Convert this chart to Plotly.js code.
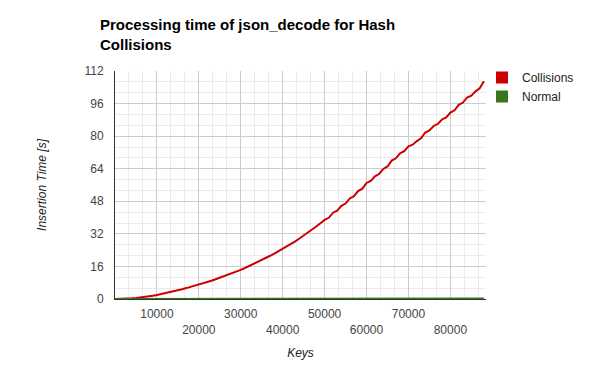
<!DOCTYPE html>
<html>
<head>
<meta charset="utf-8">
<script src="https://cdn.plot.ly/plotly-3.0.1.min.js"></script>
<style>html,body{margin:0;padding:0;background:#fff;}#chart{width:600px;height:371px;}</style>
</head>
<body>
<div id="chart"></div>
<script>
// Data
const keys = [0,1000,2000,3000,4000,5000,6000,7000,8000,9000,10000,11000,12000,13000,14000,15000,16000,17000,18000,19000,20000,21000,22000,23000,24000,25000,26000,27000,28000,29000,30000,31000,32000,33000,34000,35000,36000,37000,38000,39000,40000,41000,42000,43000,44000,45000,46000,47000,48000,49000,50000,51000,52000,53000,54000,55000,56000,57000,58000,59000,60000,61000,62000,63000,64000,65000,66000,67000,68000,69000,70000,71000,72000,73000,74000,75000,76000,77000,78000,79000,80000,81000,82000,83000,84000,85000,86000,87000,88000];
const collisions = [0,0.02,0.08,0.18,0.32,0.5,0.72,0.98,1.28,1.62,2.0,2.42,2.86,3.32,3.8,4.3,4.82,5.36,5.92,6.5,7.0,7.64,8.3,8.98,9.68,10.4,11.14,11.9,12.68,13.48,14.3,15.22,16.16,17.12,18.12,19.14,20.18,21.24,22.34,23.46,24.6,25.8,27.05,28.35,29.7,31.1,32.55,34.05,35.6,37.2,38.85,39.9,42.4,43.4,45.8,46.9,49.4,50.5,53.0,54.2,57.0,58.0,60.3,61.4,63.9,65.1,68.0,69.1,71.6,72.6,75.0,75.8,77.6,78.9,81.8,82.8,85.0,86.0,88.2,89.2,91.6,92.7,95.4,96.5,99.0,99.9,102.0,103.5,107.0];
const normal = [0,0,0,0,0,0.01,0,0,0.01,0,0.01,0,0.01,0.01,0,0.01,0.02,0.01,0.02,0.01,0.02,0.02,0.01,0.02,0.03,0.02,0.03,0.02,0.03,0.03,0.04,0.03,0.04,0.03,0.04,0.04,0.05,0.04,0.05,0.05,0.06,0.05,0.06,0.06,0.07,0.06,0.07,0.07,0.08,0.07,0.08,0.09,0.12,0.1,0.15,0.09,0.1,0.09,0.1,0.1,0.11,0.1,0.11,0.12,0.11,0.12,0.12,0.13,0.12,0.13,0.14,0.13,0.14,0.14,0.15,0.14,0.15,0.15,0.16,0.15,0.16,0.17,0.16,0.17,0.18,0.17,0.18,0.18,0.19];
const seriesNames = ['Collisions', 'Normal'];
const seriesColors = ['#cc0000', '#38761d'];
const xTickVals = [10000,20000,30000,40000,50000,60000,70000,80000];
const xTickText = ['10000','<br>20000','30000','<br>40000','50000','<br>60000','70000','<br>80000'];
const yTickVals = [0,16,32,48,64,80,96,112];
const yTickText = ['0','16','32','48','64','80','96','112'];

const FONT = 'Liberation Sans, Arial, sans-serif';
const traces = [
  {x: keys, y: collisions, type: 'scatter', mode: 'lines', line: {color: seriesColors[0], width: 2}, showlegend: false, hoverinfo: 'skip'},
  {x: keys, y: normal, type: 'scatter', mode: 'lines', line: {color: seriesColors[1], width: 2}, showlegend: false, hoverinfo: 'skip'},
  {x: [null], y: [null], type: 'scatter', mode: 'markers', name: seriesNames[0], marker: {symbol: 'square', size: 12, color: seriesColors[0]}},
  {x: [null], y: [null], type: 'scatter', mode: 'markers', name: seriesNames[1], marker: {symbol: 'square', size: 12, color: seriesColors[1]}}
];

const layout = {
  width: 600, height: 371,
  margin: {l: 115, r: 114, t: 71, b: 72},
  paper_bgcolor: '#fff', plot_bgcolor: '#fff',
  font: {family: FONT, size: 12, color: '#444'},
  title: {
    text: 'Processing time of json_decode for Hash<br>Collisions',
    font: {family: FONT, size: 15, weight: 'bold', color: '#000'},
    x: 100/600, xanchor: 'left', xref: 'container',
    y: 1 - 30/371, yanchor: 'top', yref: 'container'
  },
  xaxis: {
    range: [0, 88500], tickmode: 'array', tickvals: xTickVals, ticktext: xTickText,
    showgrid: true, gridcolor: '#cccccc', gridwidth: 1, zeroline: false,
    showline: true, linecolor: '#333', linewidth: 1,
    ticks: '', ticklabelstandoff: 4,
    tickfont: {family: FONT, size: 12, color: '#444'},
    minor: {tick0: 0, dtick: 10000/3, showgrid: true, gridcolor: '#ebebeb', gridwidth: 1, ticks: ''},
    title: {text: 'Keys', font: {family: FONT, size: 12, color: '#222', style: 'italic'}, standoff: 12},
    fixedrange: true
  },
  yaxis: {
    range: [0, 112], tickmode: 'array', tickvals: yTickVals, ticktext: yTickText,
    showgrid: true, gridcolor: '#cccccc', gridwidth: 1, zeroline: false,
    showline: true, linecolor: '#333', linewidth: 1,
    ticks: '', ticklabelstandoff: 8,
    tickfont: {family: FONT, size: 12, color: '#444'},
    minor: {tick0: 0, dtick: 16/3, showgrid: true, gridcolor: '#ebebeb', gridwidth: 1, ticks: ''},
    title: {text: 'Insertion Time [s]', font: {family: FONT, size: 12, color: '#222', style: 'italic'}, standoff: 35},
    fixedrange: true
  },
  legend: {
    x: (482-115)/371, xanchor: 'left', y: 1 + 8/228, yanchor: 'top',
    font: {family: FONT, size: 12, color: '#222'},
    bgcolor: 'rgba(0,0,0,0)', borderwidth: 0, tracegroupgap: 0
  },
  showlegend: true
};

Plotly.newPlot('chart', traces, layout, {displayModeBar: false, staticPlot: true});
</script>
</body>
</html>
